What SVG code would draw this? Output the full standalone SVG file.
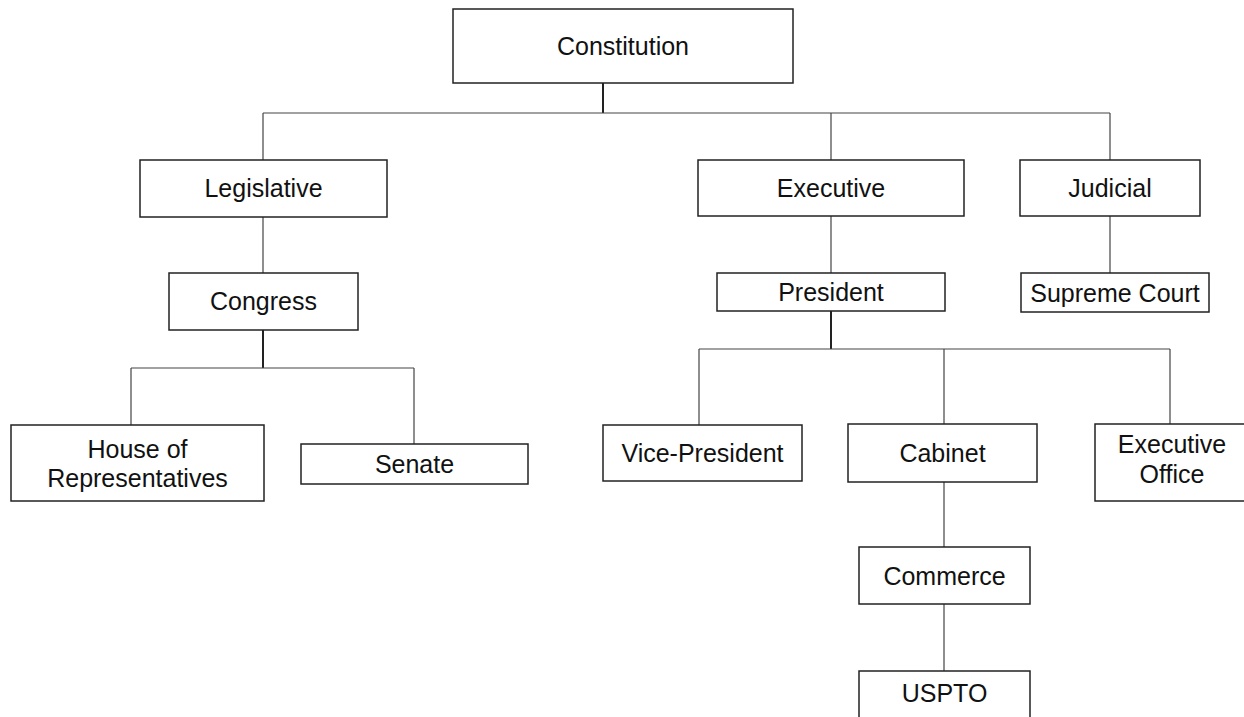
<svg xmlns="http://www.w3.org/2000/svg" width="1244" height="717" viewBox="0 0 1244 717">
<style>
.box{fill:#fff;stroke:#222;stroke-width:1.5}
.t{font-family:"Liberation Sans",Arial,sans-serif;font-size:25px;fill:#111;text-anchor:middle}
.c{stroke:#444;stroke-width:1.2;fill:none}
.ck{stroke:#222;stroke-width:2;fill:none}
</style>
<rect width="1244" height="717" fill="#fff"/>
<g id="connectors">
<path class="ck" d="M603 83V113"/>
<path class="c" d="M263 113H1110M263 113V160M831 113V160M1110 113V160"/>
<path class="c" d="M263 217V273"/>
<path class="ck" d="M263 330V368"/>
<path class="c" d="M131 368H414M131 368V425M414 368V444"/>
<path class="c" d="M831 216V273"/>
<path class="ck" d="M831 311V349"/>
<path class="c" d="M699 349H1170M699 349V425M944 349V424M1170 349V424"/>
<path class="c" d="M1110 216V273"/>
<path class="c" d="M944 482V547M944 604V671"/>
</g>
<g id="constitution"><rect class="box" x="453" y="9" width="340" height="74"/><text class="t" x="623" y="55">Constitution</text></g>
<g id="legislative"><rect class="box" x="140" y="160" width="247" height="57"/><text class="t" x="263.5" y="197">Legislative</text></g>
<g id="executive"><rect class="box" x="698" y="160" width="266" height="56"/><text class="t" x="831" y="197">Executive</text></g>
<g id="judicial"><rect class="box" x="1020" y="160" width="180" height="56"/><text class="t" x="1110" y="197">Judicial</text></g>
<g id="congress"><rect class="box" x="169" y="273" width="189" height="57"/><text class="t" x="263.5" y="310">Congress</text></g>
<g id="president"><rect class="box" x="717" y="273" width="228" height="38"/><text class="t" x="831" y="301">President</text></g>
<g id="supreme-court"><rect class="box" x="1021" y="273" width="188" height="39"/><text class="t" x="1115" y="302">Supreme Court</text></g>
<g id="house"><rect class="box" x="11" y="425" width="253" height="76"/><text class="t" x="137.5" y="458">House of</text><text class="t" x="137.5" y="487">Representatives</text></g>
<g id="senate"><rect class="box" x="301" y="444" width="227" height="40"/><text class="t" x="414.5" y="473">Senate</text></g>
<g id="vice-president"><rect class="box" x="603" y="425" width="199" height="56"/><text class="t" x="702.5" y="462">Vice-President</text></g>
<g id="cabinet"><rect class="box" x="848" y="424" width="189" height="58"/><text class="t" x="942.5" y="462">Cabinet</text></g>
<g id="executive-office"><rect class="box" x="1095" y="424" width="154" height="77"/><text class="t" x="1172" y="453">Executive</text><text class="t" x="1172" y="483">Office</text></g>
<g id="commerce"><rect class="box" x="859" y="547" width="171" height="57"/><text class="t" x="944.5" y="585">Commerce</text></g>
<g id="uspto"><rect class="box" x="859" y="671" width="171" height="60"/><text class="t" x="944.5" y="702">USPTO</text></g>
</svg>
